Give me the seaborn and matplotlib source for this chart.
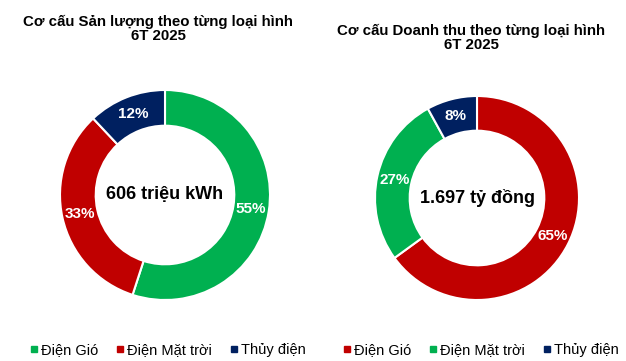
import matplotlib

matplotlib.use("Agg")
import matplotlib.pyplot as plt
import numpy as np
import seaborn as sns
from matplotlib.lines import Line2D

GREEN, RED, NAVY = "#00B050", "#C00000", "#002060"

# data
output_labels = ["Điện Gió", "Điện Mặt trời", "Thủy điện"]
output_share = [55, 33, 12]
output_colors = [GREEN, RED, NAVY]
output_total = "606 triệu kWh"

revenue_labels = ["Điện Gió", "Điện Mặt trời", "Thủy điện"]
revenue_share = [65, 27, 8]
revenue_colors = [RED, GREEN, NAVY]
revenue_total = "1.697 tỷ đồng"

titles = ["Cơ cấu Sản lượng theo từng loại hình\n6T 2025",
          "Cơ cấu Doanh thu theo từng loại hình\n6T 2025"]

sns.set_theme(style="white")
plt.rcParams["font.family"] = ["Liberation Sans", "DejaVu Sans"]
plt.rcParams["text.color"] = "black"

fig = plt.figure(figsize=(6.26, 3.61), dpi=100)

W = 626
H = 361


def donut(center, r, shares, colors, total):
    cx, cy = center
    ax = fig.add_axes([(cx - r) / W, (H - cy - r) / H, 2 * r / W, 2 * r / H])
    wedges, _ = ax.pie(shares, colors=colors, startangle=90, counterclock=False,
                       wedgeprops=dict(width=0.34, edgecolor="white", linewidth=1.5))
    for w, v in zip(wedges, shares):
        mid = np.deg2rad((w.theta1 + w.theta2) / 2)
        ax.text(0.83 * np.cos(mid), 0.83 * np.sin(mid), f"{v}%", color="white",
                fontsize=11, fontweight="bold", ha="center", va="center")
    ax.text(0, 0, total, fontsize=13, fontweight="bold", ha="center", va="center")
    ax.set_xlim(-1, 1)
    ax.set_ylim(-1, 1)
    ax.set_aspect("auto")
    ax.axis("off")
    return ax


donut((165, 195), 105, output_share, output_colors, output_total)
donut((477, 198), 102, revenue_share, revenue_colors, revenue_total)

fig.text(158 / W, 1 - 29 / H, titles[0], ha="center", va="center",
         fontsize=10.8, fontweight="bold", linespacing=1.0)
fig.text(471 / W, 1 - 38 / H, titles[1], ha="center", va="center",
         fontsize=10.8, fontweight="bold", linespacing=1.0)


def legend(labels, colors, x):
    handles = [Line2D([], [], marker="s", ls="", color=c, markersize=3.8) for c in colors]
    fig.legend(handles, labels, loc="center", bbox_to_anchor=(x / W, 1 - 350 / H),
               ncol=3, frameon=False, fontsize=10.5, handletextpad=0.2,
               columnspacing=1.3, handlelength=0.5)


legend(output_labels, output_colors, 168)
legend(revenue_labels, revenue_colors, 481)

fig.savefig("out.png", dpi=100, facecolor="white")
